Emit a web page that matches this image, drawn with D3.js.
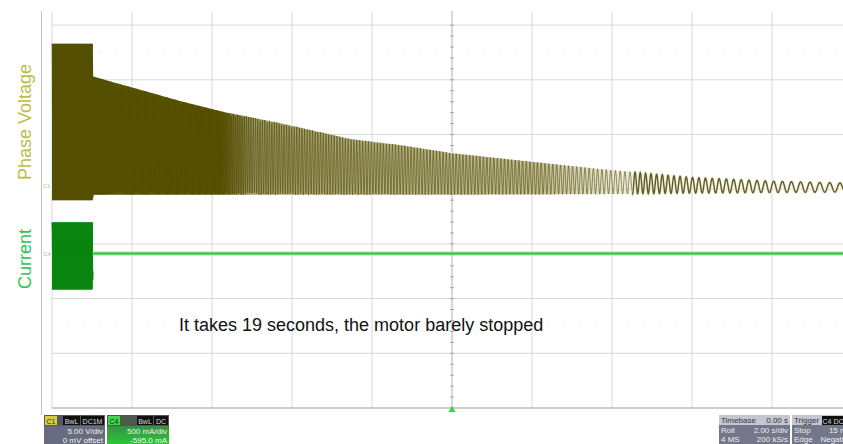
<!DOCTYPE html>
<html>
<head>
<meta charset="utf-8">
<script src="https://cdnjs.cloudflare.com/ajax/libs/d3/7.8.5/d3.min.js"></script>
<style>
  body { margin: 0; background: #fff; }
  svg { display: block; font-family: "Liberation Sans", Arial, sans-serif; }
</style>
</head>
<body>
<div id="scope"></div>
<script>
// phase voltage envelope (seconds, volts)
var voltT    = [0, 1.02, 1.03, 2.4, 3.2, 4.3, 5.7, 7.45, 8.7, 10.0, 13.7, 15.95, 17.95, 19.8];
var voltHigh = [13.0, 13.0, 10.0, 8.6, 7.77, 6.76, 5.76, 4.3, 3.75, 3.0, 1.55, 0.8, 0.45, 0.27];
var voltLow  = [-1.3, -1.3, -0.8, -0.8, -0.8, -0.8, -0.8, -0.8, -0.8, -0.8, -0.75, -0.65, -0.6, -0.55];

// apparent period of the wave on screen (seconds)
var periodT   = [0, 1.025, 4.45, 6.2, 8.2, 9.95, 11.95, 13.7, 14.95, 16.2, 17.95, 19.8];
var periodSec = [0.05, 0.05, 0.0525, 0.065, 0.075, 0.0825, 0.0925, 0.1075, 0.1375, 0.1625, 0.2125, 0.2625];

// motor current (seconds, mA)
var currT    = [0, 1.02, 1.03, 19.8];
var currHigh = [285, 285, 0, 0];
var currLow  = [-330, -330, 0, 0];

var note = "It takes 19 seconds, the motor barely stopped";
var c1Info = ["5.00 V/div", "0 mV offset"];
var c4Info = ["500 mA/div", "-595.0 mA"];
var timebaseInfo = [["Timebase", "0.00 s"], ["Roll", "2.00 s/div"], ["4 MS", "200 kS/s"]];
var triggerInfo = [["Trigger", ""], ["Stop", "15 mV"], ["Edge", "Negative"]];

var width = 843, height = 444;
var divPx = 54.7;

var x = d3.scaleLinear().domain([0, 20]).range([52, 852]);
var yV = d3.scaleLinear().domain([0, 5]).range([186, 186 - divPx]);
var yI = d3.scaleLinear().domain([0, 500]).range([253.5, 253.5 - divPx]);
var yDiv = d3.scaleLinear().domain([-4, 4]).range([408, 408 - 8 * divPx]);

var svg = d3.select("#scope").append("svg")
    .attr("width", width)
    .attr("height", height);

svg.append("rect").attr("width", width).attr("height", height).attr("fill", "#fff");

var defs = svg.append("defs");
defs.append("clipPath").attr("id", "plot")
  .append("rect").attr("x", 42).attr("y", 11).attr("width", 801).attr("height", 398);

// persistence colour of the voltage trace along the sweep
var fade = defs.append("linearGradient").attr("id", "fade")
    .attr("gradientUnits", "userSpaceOnUse")
    .attr("x1", 52).attr("x2", 700).attr("y1", 0).attr("y2", 0);
[[0, "#5b5500", 1], [0.26, "#5b5500", 1], [0.31, "#a29e72", 1], [0.5, "#b3af86", 1],
 [0.75, "#c0bc97", 1], [1, "#efeed6", 0]].forEach(function(s) {
  fade.append("stop").attr("offset", s[0]).attr("stop-color", s[1]).attr("stop-opacity", s[2]);
});

var greenBody = defs.append("linearGradient").attr("id", "greenBody")
    .attr("x1", 0).attr("x2", 0).attr("y1", 0).attr("y2", 1);
greenBody.append("stop").attr("offset", 0).attr("stop-color", "#4a6a4e");
greenBody.append("stop").attr("offset", 1).attr("stop-color", "#27c934");

// ---- graticule
var gridG = svg.append("g").attr("clip-path", "url(#plot)");

gridG.selectAll(".vline")
    .data(d3.range(0, 22, 2))
  .enter().append("line")
    .attr("class", "vline")
    .attr("x1", function(d) { return x(d); })
    .attr("x2", function(d) { return x(d); })
    .attr("y1", 11).attr("y2", 408)
    .attr("stroke", "#d8d8d8");

gridG.selectAll(".hline")
    .data(d3.range(-4, 4))
  .enter().append("line")
    .attr("class", "hline")
    .attr("x1", 52).attr("x2", 852)
    .attr("y1", function(d) { return yDiv(d); })
    .attr("y2", function(d) { return yDiv(d); })
    .attr("stroke", function(d) { return d == -4 ? "#bdbdbd" : "#d8d8d8"; })
    .attr("stroke-width", function(d) { return d == -4 ? 1.5 : 1; });

// faint dotted rows
gridG.selectAll(".dots")
    .data([-2.5, 2.5])
  .enter().append("line")
    .attr("x1", 52).attr("x2", 852)
    .attr("y1", function(d) { return yDiv(d); })
    .attr("y2", function(d) { return yDiv(d); })
    .attr("stroke", "#d6d6d6")
    .attr("stroke-dasharray", "1,15");

// centre axis with minor ticks
gridG.append("line")
    .attr("x1", x(10)).attr("x2", x(10)).attr("y1", 11).attr("y2", 408)
    .attr("stroke", "#c4c4c4");
gridG.selectAll(".tick")
    .data(d3.range(-4, 3.01, 0.2))
  .enter().append("line")
    .attr("x1", x(10) - 2).attr("x2", x(10) + 2)
    .attr("y1", function(d) { return yDiv(d); })
    .attr("y2", function(d) { return yDiv(d); })
    .attr("stroke", "#a8a8a8");

// left frame
svg.append("line")
    .attr("x1", 41.5).attr("x2", 41.5).attr("y1", 11).attr("y2", 415)
    .attr("stroke", "#c2c2c2");

// ---- traces
var vHigh = d3.scaleLinear().domain(voltT).range(voltHigh).clamp(true);
var vLow = d3.scaleLinear().domain(voltT).range(voltLow).clamp(true);
var cHigh = d3.scaleLinear().domain(currT).range(currHigh).clamp(true);
var cLow = d3.scaleLinear().domain(currT).range(currLow).clamp(true);
var period = d3.scaleLinear().domain(periodT).range(periodSec).clamp(true);

// sweep the envelope with the period seen on the screen
function sweep(hiS, loS, tEnd) {
  var pts = [], ph = Math.PI / 2, t = 0, dt = 0.25 / 40;
  while (t <= tEnd) {
    var hi = hiS(t), lo = loS(t);
    pts.push([t, (hi + lo) / 2 + (hi - lo) / 2 * Math.sin(ph)]);
    ph += 2 * Math.PI * dt / period(t);
    t += dt;
  }
  return pts;
}

function stations(knots, tEnd) {
  return d3.merge([d3.range(0, tEnd, 0.025), knots.filter(function(t) { return t <= tEnd; }), [tEnd]])
    .sort(d3.ascending);
}

var plot = svg.append("g").attr("clip-path", "url(#plot)");

var voltArea = d3.area()
    .x(function(d) { return x(d); })
    .y0(function(d) { return yV(vLow(d)); })
    .y1(function(d) { return yV(vHigh(d)); });

plot.append("path")
    .datum(stations(voltT, 19.8))
    .attr("d", voltArea)
    .attr("fill", "url(#fade)");

var voltLine = d3.line()
    .x(function(d) { return x(d[0]); })
    .y(function(d) { return yV(d[1]); });

var voltTrace = sweep(vHigh, vLow, 19.8);
var dense = voltTrace.filter(function(d) { return d[0] <= 14.6; });
var tail = voltTrace.filter(function(d) { return d[0] >= 14.5; });

plot.append("path")
    .datum(dense)
    .attr("d", voltLine)
    .attr("fill", "none")
    .attr("stroke", "#4f4a00")
    .attr("stroke-width", 0.6);

plot.append("path")
    .datum(tail)
    .attr("d", voltLine)
    .attr("fill", "none")
    .attr("stroke", "#f1f0d2")
    .attr("stroke-width", 3);

plot.append("path")
    .datum(tail)
    .attr("d", voltLine)
    .attr("fill", "none")
    .attr("stroke", "#5d5a2c")
    .attr("stroke-width", 1.4);

var currArea = d3.area()
    .x(function(d) { return x(d); })
    .y0(function(d) { return yI(cLow(d)); })
    .y1(function(d) { return yI(cHigh(d)); });

plot.append("path")
    .datum(stations(currT, 1.025))
    .attr("d", currArea)
    .attr("fill", "#0b8a12");

var currLine = d3.line()
    .x(function(d) { return x(d[0]); })
    .y(function(d) { return yI(d[1]); });

plot.append("path")
    .datum(sweep(cHigh, cLow, 1.025))
    .attr("d", currLine)
    .attr("fill", "none")
    .attr("stroke", "#0a850f")
    .attr("stroke-width", 1);

var flat = currT.slice(2).map(function(t) { return [t, (cHigh(t) + cLow(t)) / 2]; });
flat.unshift([1.02, 0]);

plot.append("path")
    .datum(flat)
    .attr("d", currLine)
    .attr("fill", "none")
    .attr("stroke", "#a9e8ad")
    .attr("stroke-width", 4);
plot.append("path")
    .datum(flat)
    .attr("d", currLine)
    .attr("fill", "none")
    .attr("stroke", "#34c441")
    .attr("stroke-width", 2);

// ground markers
svg.append("text").attr("x", 43).attr("y", yV(0) + 2)
    .attr("font-size", 6).attr("fill", "#c4c276").text("C1");
svg.append("text").attr("x", 43).attr("y", yI(0) + 2)
    .attr("font-size", 6).attr("fill", "#7fd486").text("C4");

// trigger marker
svg.append("path")
    .attr("d", d3.symbol().type(d3.symbolTriangle).size(22))
    .attr("transform", "translate(" + x(10) + ",410)")
    .attr("fill", "#3fd24f");

// ---- labels
svg.append("text")
    .attr("transform", "translate(31," + 122 + ") rotate(-90)")
    .attr("text-anchor", "middle")
    .attr("font-size", 18)
    .attr("fill", "#bcbc48")
    .text("Phase Voltage");

svg.append("text")
    .attr("transform", "translate(31," + 259 + ") rotate(-90)")
    .attr("text-anchor", "middle")
    .attr("font-size", 18)
    .attr("fill", "#2dc653")
    .text("Current");

svg.append("text")
    .attr("x", 179).attr("y", 331)
    .attr("font-size", 18)
    .attr("fill", "#111")
    .text(note);

// ---- status boxes
function tag(g, x0, w, label, bg, fg) {
  g.append("rect").attr("x", x0).attr("y", 416).attr("width", w).attr("height", 9).attr("fill", bg);
  g.append("text").attr("x", x0 + w / 2).attr("y", 423.5)
      .attr("text-anchor", "middle").attr("font-size", 7).attr("fill", fg).text(label);
}

var c1 = svg.append("g");
c1.append("rect").attr("x", 44).attr("y", 415).attr("width", 61).attr("height", 29).attr("fill", "#686c7e");
c1.append("rect").attr("x", 44).attr("y", 415).attr("width", 61).attr("height", 11).attr("fill", "#55586a");
tag(c1, 45, 12, "C1", "#d6cd3a", "#333");
tag(c1, 63, 17, "BwL", "#111", "#ddd");
tag(c1, 81, 23, "DC1M", "#111", "#ddd");
c1.selectAll(".info").data(c1Info).enter().append("text")
    .attr("x", 103).attr("y", function(d, i) { return 434 + i * 9; })
    .attr("text-anchor", "end").attr("font-size", 8).attr("fill", "#f2f2f2").text(function(d) { return d; });

var c4 = svg.append("g");
c4.append("rect").attr("x", 107).attr("y", 415).attr("width", 62).attr("height", 29).attr("fill", "url(#greenBody)");
c4.append("rect").attr("x", 107).attr("y", 415).attr("width", 62).attr("height", 11).attr("fill", "#4b5a4c");
tag(c4, 108, 12, "C4", "#40d64c", "#222");
tag(c4, 137, 16, "BwL", "#111", "#ddd");
tag(c4, 154, 14, "DC", "#111", "#ddd");
c4.selectAll(".info").data(c4Info).enter().append("text")
    .attr("x", 167).attr("y", function(d, i) { return 434 + i * 9; })
    .attr("text-anchor", "end").attr("font-size", 8).attr("fill", "#f2f2f2").text(function(d) { return d; });

function infoBox(x0, w, rows) {
  var g = svg.append("g");
  g.append("rect").attr("x", x0).attr("y", 415).attr("width", w).attr("height", 29).attr("fill", "#74768a");
  g.append("rect").attr("x", x0).attr("y", 415).attr("width", w).attr("height", 10).attr("fill", "#c5c6d2");
  rows.forEach(function(r, i) {
    var yy = 423 + i * 9.5;
    var col = i == 0 ? "#333" : "#eee";
    g.append("text").attr("x", x0 + 2).attr("y", yy).attr("font-size", 8).attr("fill", col).text(r[0]);
    g.append("text").attr("x", x0 + w - 2).attr("y", yy).attr("text-anchor", "end")
        .attr("font-size", 8).attr("fill", col).text(r[1]);
  });
  return g;
}
infoBox(719, 71, timebaseInfo);
var trig = infoBox(792, 62, triggerInfo);
tag(trig, 822, 22, "C4 DC", "#111", "#ddd");
</script>
</body>
</html>
